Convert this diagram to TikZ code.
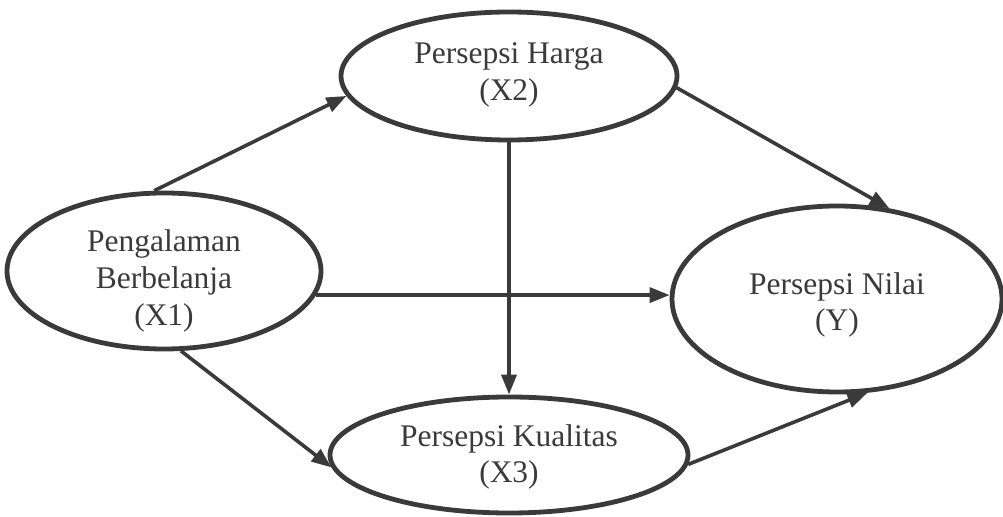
\documentclass[tikz,border=0pt]{standalone}
\usepackage{fontspec}
\setmainfont{Liberation Serif}
\usetikzlibrary{shapes.geometric,arrows.meta}
\definecolor{ink}{HTML}{3A3A3A}
\begin{document}
\begin{tikzpicture}[x=0.5bp,y=-0.5bp,
  var/.style={ellipse,draw=ink,line width=2.4bp,inner sep=0pt},
  vtext/.style={align=center,inner sep=0pt,text=ink,font=\fontsize{15.8}{18.5}\selectfont},
  link/.style={draw=ink,line width=1.8bp,-{Triangle[length=10bp,width=7.5bp]}}]
\useasboundingbox (0,0) rectangle (1003,517);
\node[var,minimum width=168bp,minimum height=64bp] (x2) at (509,76) {};
\node[var,minimum width=157bp,minimum height=78bp] (x1) at (164,271) {};
\node[var,minimum width=165bp,minimum height=93bp] (y) at (837,299) {};
\node[var,minimum width=179bp,minimum height=58bp] (x3) at (509,455) {};
\node[vtext] (x2t) at ([yshift=0.5bp]x2.center) {Persepsi Harga\\(X2)};
\node[vtext] (x1t) at ([yshift=-5bp]x1.center) {Pengalaman\\Berbelanja\\(X1)};
\node[vtext] (yt) at ([yshift=-3bp]y.center) {Persepsi Nilai\\(Y)};
\node[vtext] (x3t) at ([yshift=-1bp]x3.center) {Persepsi Kualitas\\(X3)};
\draw[link] (x1.97) -- (x2.187);
\draw[link] (x2.356) -- (y.60);
\draw[link] (x2.south) -- (x3.north);
\draw[link] (x1.-9) -- (x1.-9 -| y.west);
\draw[link] (x1.-78) -- (x3.184);
\draw[link] (x3.357) -- (y.288);
\end{tikzpicture}
\end{document}
